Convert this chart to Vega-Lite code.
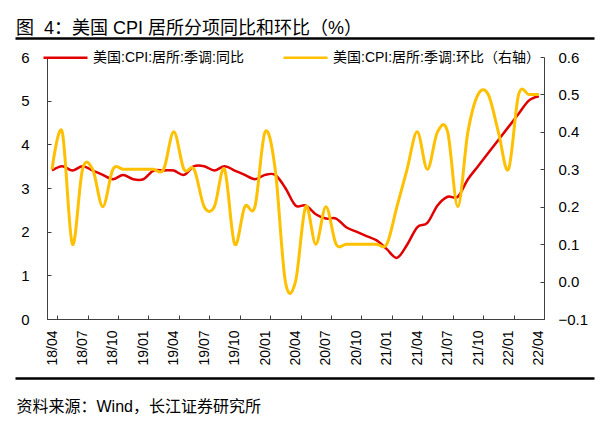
{
  "$schema": "https://vega.github.io/schema/vega-lite/v6.json",
  "width": 497,
  "height": 262,
  "autosize": "none",
  "padding": {"left": 47, "top": 57, "right": 66, "bottom": 104},
  "background": "white",
  "title": {
    "text": "图\u00a0 4：美国 CPI 居所分项同比和环比（%）",
    "anchor": "start",
    "frame": "group",
    "dx": -31,
    "dy": 8,
    "fontSize": 18,
    "fontWeight": "normal",
    "font": "Liberation Sans, Noto Sans CJK SC",
    "color": "#000000"
  },
  "config": {
    "view": {"stroke": null},
    "font": "Liberation Sans, Noto Sans CJK SC",
    "axis": {
      "grid": false,
      "domainColor": "#404040",
      "tickColor": "#404040",
      "labelColor": "#000000",
      "labelFont": "Liberation Sans, Noto Sans CJK SC"
    }
  },
  "data": {
    "values": [
      {"month": "18/04", "yoy": 3.4, "mom": 0.3},
      {"month": "18/05", "yoy": 3.5, "mom": 0.4},
      {"month": "18/06", "yoy": 3.4, "mom": 0.1},
      {"month": "18/07", "yoy": 3.5, "mom": 0.3},
      {"month": "18/08", "yoy": 3.4, "mom": 0.3},
      {"month": "18/09", "yoy": 3.3, "mom": 0.2},
      {"month": "18/10", "yoy": 3.2, "mom": 0.3},
      {"month": "18/11", "yoy": 3.3, "mom": 0.3},
      {"month": "18/12", "yoy": 3.2, "mom": 0.3},
      {"month": "19/01", "yoy": 3.2, "mom": 0.3},
      {"month": "19/02", "yoy": 3.4, "mom": 0.3},
      {"month": "19/03", "yoy": 3.4, "mom": 0.3},
      {"month": "19/04", "yoy": 3.4, "mom": 0.4},
      {"month": "19/05", "yoy": 3.3, "mom": 0.3},
      {"month": "19/06", "yoy": 3.5, "mom": 0.3},
      {"month": "19/07", "yoy": 3.5, "mom": 0.2},
      {"month": "19/08", "yoy": 3.4, "mom": 0.2},
      {"month": "19/09", "yoy": 3.5, "mom": 0.3},
      {"month": "19/10", "yoy": 3.4, "mom": 0.1},
      {"month": "19/11", "yoy": 3.3, "mom": 0.2},
      {"month": "19/12", "yoy": 3.2, "mom": 0.2},
      {"month": "20/01", "yoy": 3.3, "mom": 0.4},
      {"month": "20/02", "yoy": 3.3, "mom": 0.3},
      {"month": "20/03", "yoy": 3.0, "mom": 0.0},
      {"month": "20/04", "yoy": 2.6, "mom": 0.0},
      {"month": "20/05", "yoy": 2.6, "mom": 0.2},
      {"month": "20/06", "yoy": 2.4, "mom": 0.1},
      {"month": "20/07", "yoy": 2.3, "mom": 0.2},
      {"month": "20/08", "yoy": 2.3, "mom": 0.1},
      {"month": "20/09", "yoy": 2.1, "mom": 0.1},
      {"month": "20/10", "yoy": 2.0, "mom": 0.1},
      {"month": "20/11", "yoy": 1.9, "mom": 0.1},
      {"month": "20/12", "yoy": 1.8, "mom": 0.1},
      {"month": "21/01", "yoy": 1.6, "mom": 0.1},
      {"month": "21/02", "yoy": 1.4, "mom": 0.2},
      {"month": "21/03", "yoy": 1.7, "mom": 0.3},
      {"month": "21/04", "yoy": 2.1, "mom": 0.4},
      {"month": "21/05", "yoy": 2.2, "mom": 0.3},
      {"month": "21/06", "yoy": 2.6, "mom": 0.4},
      {"month": "21/07", "yoy": 2.8, "mom": 0.4},
      {"month": "21/08", "yoy": 2.8, "mom": 0.2},
      {"month": "21/09", "yoy": 3.2, "mom": 0.4},
      {"month": "21/10", "yoy": 3.5, "mom": 0.5},
      {"month": "21/11", "yoy": 3.8, "mom": 0.5},
      {"month": "21/12", "yoy": 4.1, "mom": 0.4},
      {"month": "22/01", "yoy": 4.4, "mom": 0.3},
      {"month": "22/02", "yoy": 4.7, "mom": 0.5},
      {"month": "22/03", "yoy": 5.0, "mom": 0.5},
      {"month": "22/04", "yoy": 5.1, "mom": 0.5}
    ]
  },
  "layer": [
    {
      "layer": [
        {
          "mark": {"type": "line", "interpolate": "cardinal", "strokeWidth": 2.5},
          "encoding": {
            "x": {
              "field": "month",
              "type": "ordinal",
              "scale": {"type": "band", "paddingInner": 0, "paddingOuter": 0},
              "axis": {
                "orient": "bottom",
                "values": ["18/04", "18/07", "18/10", "19/01", "19/04", "19/07", "19/10", "20/01", "20/04", "20/07", "20/10", "21/01", "21/04", "21/07", "21/10", "22/01", "22/04"],
                "tickBand": "extent",
                "tickSize": -4,
                "labelAngle": 270,
                "labelPadding": 15,
                "labelFontSize": 14,
                "title": "资料来源：Wind，长江证券研究所",
                "titleFont": "Liberation Sans, Noto Sans CJK SC",
                "titleFontSize": 16,
                "titleFontWeight": "normal",
                "titleColor": "#000000",
                "titleAlign": "left",
                "titleBaseline": "middle",
                "titleAnchor": "start",
                "titleX": -31,
                "titleY": 87
              }
            },
            "y": {
              "field": "yoy",
              "type": "quantitative",
              "scale": {"domain": [0, 6], "nice": false},
              "axis": {
                "orient": "left",
                "title": null,
                "values": [0, 1, 2, 3, 4, 5, 6],
                "tickSize": -4,
                "labelPadding": 22,
                "labelFontSize": 15
              }
            },
            "color": {
              "datum": "美国:CPI:居所:季调:同比",
              "scale": {
                "domain": ["美国:CPI:居所:季调:同比", "美国:CPI:居所:季调:环比（右轴）"],
                "range": ["#E00000", "#FFC000"]
              },
              "legend": {
                "title": null,
                "orient": "none",
                "legendX": -5,
                "legendY": -23,
                "direction": "horizontal",
                "symbolType": "stroke",
                "symbolSize": 1936,
                "symbolStrokeWidth": 2.5,
                "labelFontSize": 14,
                "labelColor": "#000000",
                "labelLimit": 400,
                "labelOffset": 4,
                "columnPadding": 34,
                "padding": 0
              }
            }
          }
        },
        {
          "mark": {"type": "line", "interpolate": "cardinal", "strokeWidth": 3},
          "encoding": {
            "x": {"field": "month", "type": "ordinal"},
            "y": {
              "field": "mom",
              "type": "quantitative",
              "scale": {"domain": [-0.1, 0.6], "nice": false},
              "axis": {
                "orient": "right",
                "title": null,
                "values": [-0.1, 0, 0.1, 0.2, 0.3, 0.4, 0.5, 0.6],
                "format": ".1f",
                "tickSize": -4,
                "labelPadding": 18,
                "labelFontSize": 15
              }
            },
            "color": {"datum": "美国:CPI:居所:季调:环比（右轴）"}
          }
        }
      ],
      "resolve": {"scale": {"y": "independent"}, "axis": {"y": "independent"}}
    },
    {
      "data": {"values": [{}]},
      "mark": {"type": "rule", "opacity": 0},
      "encoding": {
        "x": {
          "datum": 0,
          "type": "quantitative",
          "scale": {"domain": [0, 1], "range": [-32, 547]},
          "axis": {
            "orient": "top",
            "offset": 19,
            "domainColor": "#000000",
            "domainWidth": 2.5,
            "ticks": false,
            "labels": false,
            "title": null
          }
        }
      }
    },
    {
      "data": {"values": [{}]},
      "mark": {"type": "rule", "opacity": 0},
      "encoding": {
        "x": {
          "datum": 0,
          "type": "quantitative",
          "scale": {"domain": [0, 1], "range": [-32, 547]},
          "axis": {
            "orient": "bottom",
            "offset": 59,
            "domainColor": "#000000",
            "domainWidth": 2.5,
            "ticks": false,
            "labels": false,
            "title": null
          }
        }
      }
    }
  ],
  "resolve": {"scale": {"x": "independent"}, "axis": {"x": "independent"}}
}
